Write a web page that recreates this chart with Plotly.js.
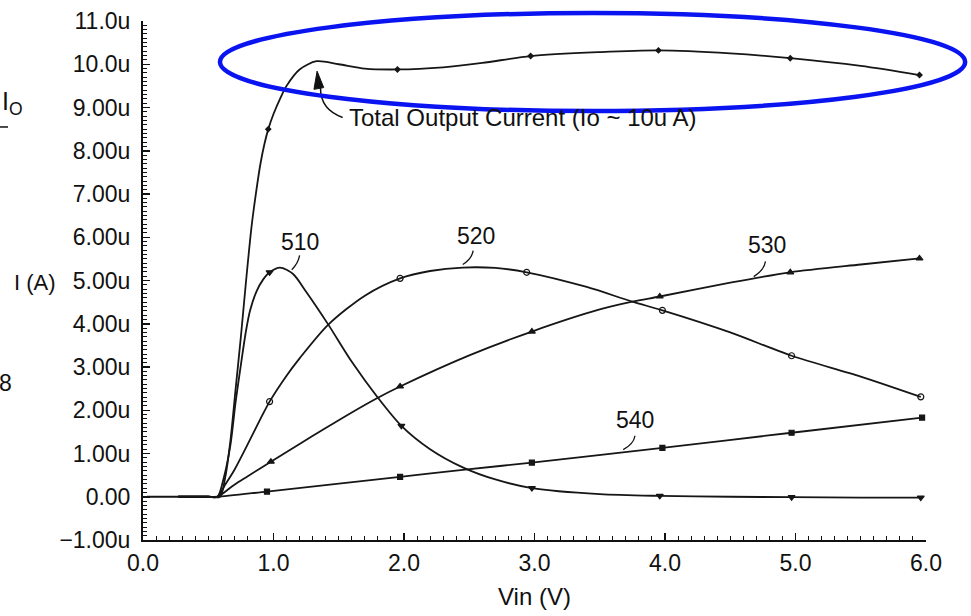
<!DOCTYPE html>
<html>
<head>
<meta charset="utf-8">
<script src="https://cdn.plot.ly/plotly-3.0.1.min.js"></script>
<style>html,body{margin:0;padding:0;background:#fff;}#chart{width:971px;height:616px;}</style>
</head>
<body>
<div id="chart"></div>
<script>
// ---- Data (Vin in V, current in uA) ----
const v510 = [0.27,0.5,0.57,0.62,0.67,0.71,0.75,0.79,0.82,0.87,0.92,0.97,1.05,1.15,1.25,1.42,1.6,1.8,1.98,2.2,2.45,2.7,2.98,3.5,3.96,4.5,4.97,5.5,5.96];
const i510 = [0,0,0,0.45,1.2,2.2,3.05,3.85,4.3,4.75,5.02,5.19,5.30,5.15,4.74,3.98,3.12,2.29,1.64,1.1,0.68,0.4,0.2,0.06,0.02,0.0,-0.01,-0.02,-0.02];

const v520 = [0.27,0.5,0.57,0.63,0.7,0.8,0.9,0.97,1.1,1.2,1.42,1.7,1.97,2.2,2.45,2.7,2.94,3.4,3.75,3.98,4.5,4.97,5.5,5.96];
const i520 = [0,0,0,0.28,0.62,1.2,1.8,2.2,2.8,3.2,3.98,4.65,5.05,5.22,5.30,5.29,5.19,4.85,4.51,4.31,3.8,3.26,2.78,2.31];

const v530 = [0.27,0.5,0.57,0.7,0.8,0.98,1.2,1.4,1.6,1.8,1.97,2.5,2.98,3.5,3.75,3.96,4.5,4.96,5.5,5.95];
const i530 = [0,0,0,0.28,0.47,0.81,1.22,1.59,1.95,2.29,2.55,3.27,3.82,4.33,4.51,4.63,4.95,5.19,5.37,5.51];

const v540 = [0.03,0.5,0.57,0.95,1.97,2.45,2.98,3.98,4.97,5.97];
const i540 = [0,0,0,0.12,0.46,0.62,0.79,1.13,1.48,1.83];

const vTot = [0.27,0.5,0.59,0.63,0.67,0.71,0.75,0.79,0.83,0.86,0.9,0.93,0.96,1.0,1.05,1.1,1.2,1.33,1.5,1.7,1.95,2.3,2.6,2.97,3.5,3.95,4.5,4.96,5.5,5.95];
const iTot = [0,0,0,0.45,1.3,2.5,3.7,5.0,6.2,6.9,7.7,8.15,8.5,8.85,9.2,9.5,9.88,10.07,10.0,9.9,9.88,9.93,10.03,10.19,10.28,10.32,10.25,10.14,9.96,9.75];

// marker points
const m510X = [0.97,1.98,2.98,3.96,4.97,5.96], m510Y = [5.19,1.64,0.2,0.02,-0.01,-0.02];
const m520X = [0.97,1.97,2.94,3.98,4.97,5.96], m520Y = [2.2,5.05,5.19,4.31,3.26,2.31];
const m530X = [0.98,1.97,2.98,3.96,4.96,5.95], m530Y = [0.81,2.55,3.82,4.63,5.19,5.51];
const m540X = [0.95,1.97,2.98,3.98,4.97,5.97], m540Y = [0.12,0.46,0.79,1.13,1.48,1.83];
const mTotX = [0.96,1.95,2.97,3.95,4.96,5.95], mTotY = [8.5,9.88,10.19,10.32,10.14,9.75];

// axis ticks
const yTickVals = [-1,0,1,2,3,4,5,6,7,8,9,10,11];
const yTickText = ["\u22121.00u","0.00","1.00u","2.00u","3.00u","4.00u","5.00u","6.00u","7.00u","8.00u","9.00u","10.0u","11.0u"];
const xTickVals = [0,1,2,3,4,5,6];
const xTickText = ["0.0","1.0","2.0","3.0","4.0","5.0","6.0"];

// curve labels
const labelText = ["510","520","530","540"];
const labelX = [1.20,2.55,4.78,3.77];
const labelY = [5.90,6.04,5.81,1.78];

const FONT = "Liberation Sans, Arial, Helvetica, sans-serif";
const LINE = {color:'#161616', width:1.8, shape:'spline', smoothing:0.8};

function lineTrace(x,y){ return {x:x,y:y,type:'scatter',mode:'lines',line:LINE,hoverinfo:'skip',showlegend:false}; }
function markTrace(x,y,sym,sz){ return {x:x,y:y,type:'scatter',mode:'markers',marker:{symbol:sym,size:sz,color:'#161616',line:{color:'#161616',width:1.2}},hoverinfo:'skip',showlegend:false}; }

const data = [
  lineTrace(v540,i540), lineTrace(v530,i530), lineTrace(v520,i520), lineTrace(v510,i510), lineTrace(vTot,iTot),
  markTrace(m510X,m510Y,'triangle-down',6),
  markTrace(m520X,m520Y,'circle-open',6),
  markTrace(m530X,m530Y,'triangle-up',6),
  markTrace(m540X,m540Y,'square',5),
  markTrace(mTotX,mTotY,'diamond',4)
];

const annotations = [];
for (let k=0;k<labelText.length;k++){
  annotations.push({x:labelX[k],y:labelY[k],xref:'x',yref:'y',text:labelText[k],showarrow:false,
    font:{family:FONT,size:23,color:'#111'},xanchor:'center',yanchor:'middle'});
}
annotations.push({x:1.56,y:8.77,xref:'x',yref:'y',text:'Total Output Current (Io ~ 10u A)',showarrow:false,
  font:{family:FONT,size:24,color:'#111'},xanchor:'left',yanchor:'middle'});
annotations.push({x:-0.1826,y:0.842,xref:'paper',yref:'paper',text:'I<sub>O</sub>',showarrow:false,
  font:{family:FONT,size:25,color:'#111'},xanchor:'left',yanchor:'middle'});
annotations.push({x:-0.138,y:0.497,xref:'paper',yref:'paper',text:'I (A)',showarrow:false,
  font:{family:FONT,size:22,color:'#111'},xanchor:'center',yanchor:'middle'});
annotations.push({x:-0.175,y:0.302,xref:'paper',yref:'paper',text:'8',showarrow:false,
  font:{family:FONT,size:23,color:'#111'},xanchor:'center',yanchor:'middle'});

const shapes = [
  // leader ticks for labels
  {type:'path',xref:'x',yref:'y',path:'M1.20,5.58 Q1.19,5.40 1.14,5.25',line:{color:'#111',width:1.3}},
  {type:'path',xref:'x',yref:'y',path:'M2.53,5.69 Q2.52,5.50 2.45,5.37',line:{color:'#111',width:1.3}},
  {type:'path',xref:'x',yref:'y',path:'M4.77,5.44 Q4.76,5.24 4.68,5.09',line:{color:'#111',width:1.3}},
  {type:'path',xref:'x',yref:'y',path:'M3.77,1.41 Q3.76,1.22 3.68,1.09',line:{color:'#111',width:1.3}},
  // curved arrow for total output current
  {type:'path',xref:'x',yref:'y',path:'M1.53,8.77 Q1.36,8.95 1.36,9.45',line:{color:'#111',width:1.5}},
  {type:'path',xref:'x',yref:'y',path:'M1.334,9.84 L1.31,9.42 L1.385,9.46 Z',fillcolor:'#111',line:{color:'#111',width:1}},
  // small dash under I_O
  {type:'line',xref:'paper',yref:'paper',x0:-0.1826,x1:-0.1724,y0:0.7958,y1:0.7958,line:{color:'#111',width:1.5}},
  // blue ellipse
  {type:'circle',xref:'paper',yref:'paper',x0:0.0983,x1:1.05,y0:0.8265,y1:1.0154,line:{color:'#0a14f0',width:4.5},fillcolor:'rgba(0,0,0,0)',layer:'above'}
];

const layout = {
  width:971, height:616,
  margin:{l:143,r:45,t:21,b:76,pad:0},
  paper_bgcolor:'#fff', plot_bgcolor:'#fff',
  showlegend:false,
  font:{family:FONT,size:22,color:'#111'},
  xaxis:{range:[0,6],tickmode:'array',tickvals:xTickVals,ticktext:xTickText,
    ticks:'inside',ticklen:7,tickwidth:1.5,tickcolor:'#111',
    showline:true,linecolor:'#111',linewidth:2,showgrid:false,zeroline:false,
    tickfont:{family:FONT,size:23,color:'#111'},ticklabelstandoff:1,
    minor:{tickmode:'linear',tick0:0,dtick:0.1,ticks:'inside',ticklen:4,tickwidth:1,tickcolor:'#111',showgrid:false},
    title:{text:'Vin (V)',font:{family:FONT,size:24,color:'#111'},standoff:14}},
  yaxis:{range:[-1,11],tickmode:'array',tickvals:yTickVals,ticktext:yTickText,
    ticks:'inside',ticklen:7,tickwidth:1.5,tickcolor:'#111',
    showline:true,linecolor:'#111',linewidth:2,showgrid:false,zeroline:false,
    tickfont:{family:FONT,size:23,color:'#111'},ticklabelstandoff:6,
    minor:{tickmode:'linear',tick0:0,dtick:0.1,ticks:'inside',ticklen:4,tickwidth:1,tickcolor:'#111',showgrid:false}},
  annotations:annotations,
  shapes:shapes
};

Plotly.newPlot('chart',data,layout,{staticPlot:true,displayModeBar:false});
</script>
</body>
</html>
